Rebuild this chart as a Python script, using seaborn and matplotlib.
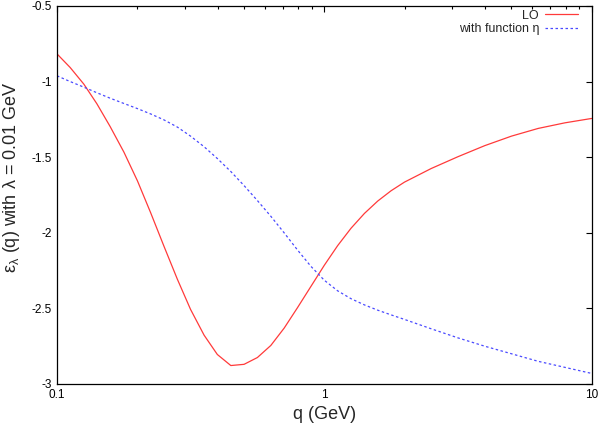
import numpy as np
import pandas as pd
import matplotlib
matplotlib.use("Agg")
import matplotlib.pyplot as plt
from matplotlib.ticker import FixedLocator, FixedFormatter, LogLocator, NullFormatter
import seaborn as sns

# values (q in GeV, log-spaced)
q = [0.1, 0.112, 0.126, 0.141, 0.158, 0.178, 0.2, 0.224, 0.251, 0.282, 0.316,
     0.355, 0.398, 0.447, 0.501, 0.562, 0.631, 0.708, 0.794, 0.891, 1.0, 1.122,
     1.259, 1.413, 1.585, 1.778, 1.995, 2.512, 3.162, 3.981, 5.012, 6.31, 7.943, 10.0]
eps_lo = [-0.817, -0.907, -1.017, -1.147, -1.297, -1.467, -1.657, -1.867, -2.087, -2.307, -2.507,
          -2.677, -2.805, -2.878, -2.870, -2.825, -2.745, -2.63, -2.495, -2.355, -2.215, -2.085,
          -1.97, -1.872, -1.79, -1.722, -1.665, -1.575, -1.497, -1.424, -1.361, -1.31, -1.273, -1.244]
eps_eta = [-0.962, -1.0, -1.037, -1.074, -1.11, -1.145, -1.179, -1.214, -1.253, -1.301, -1.361,
           -1.431, -1.509, -1.595, -1.688, -1.787, -1.891, -2.001, -2.114, -2.222, -2.314, -2.384,
           -2.436, -2.477, -2.512, -2.543, -2.573, -2.635, -2.695, -2.75, -2.8, -2.85, -2.89, -2.93]

series_names = ["LO", "with function \u03b7"]
x_ticks = [0.1, 1, 10]
x_tick_labels = ["0.1", "1", "10"]
y_ticks = [-3, -2.5, -2, -1.5, -1, -0.5]
y_tick_labels = ["-3", "-2.5", "-2", "-1.5", "-1", "-0.5"]

df = pd.concat([
    pd.DataFrame({"q": q, "eps": eps_lo, "curve": series_names[0]}),
    pd.DataFrame({"q": q, "eps": eps_eta, "curve": series_names[1]}),
])

sns.set_style("white")
plt.rcParams["font.family"] = ["Liberation Sans", "DejaVu Sans"]
plt.rcParams["mathtext.fontset"] = "custom"
plt.rcParams["mathtext.rm"] = "Liberation Sans"
plt.rcParams["mathtext.it"] = "Liberation Sans"
plt.rcParams["axes.unicode_minus"] = False

fig = plt.figure(figsize=(6, 4.25), dpi=100)
ax = fig.add_axes([0.095, 0.0965, 0.891, 0.8895])

sns.lineplot(data=df, x="q", y="eps", hue="curve", style="curve",
             palette=["#ff3a3a", "#4a4aff"],
             dashes=[(None, None), (2, 2)], linewidth=0.9, ax=ax, sort=False)

ax.set_xscale("log")
ax.set_xlim(0.1, 10)
ax.set_ylim(-3, -0.5)

ax.xaxis.set_major_locator(FixedLocator(x_ticks))
ax.xaxis.set_major_formatter(FixedFormatter(x_tick_labels))
ax.xaxis.set_minor_locator(LogLocator(base=10, subs=np.arange(2, 10)))
ax.xaxis.set_minor_formatter(NullFormatter())
ax.yaxis.set_major_locator(FixedLocator(y_ticks))
ax.yaxis.set_major_formatter(FixedFormatter(y_tick_labels))

ax.tick_params(which="both", direction="in", top=True, right=True, labelsize=8.5, colors="black")
ax.tick_params(which="major", length=4.5, width=0.8)
ax.tick_params(which="minor", length=2.5, width=0.8)
for s in ax.spines.values():
    s.set_color("black")
    s.set_linewidth(0.9)

ax.set_xlabel("q (GeV)", fontsize=13, labelpad=4)
ax.set_ylabel("\u03b5$_{\\mathrm{\u03bb}}$ (q) with \u03bb = 0.01 GeV", fontsize=13)
ax.yaxis.set_label_coords(-0.066, 0.548)

leg = ax.legend(loc="upper right", bbox_to_anchor=(0.9906, 1.0132), frameon=False,
                markerfirst=False, fontsize=9, handlelength=2.6, handletextpad=0.5,
                labelspacing=0.1, borderaxespad=0.3)

fig.savefig("out.png", dpi=100)
